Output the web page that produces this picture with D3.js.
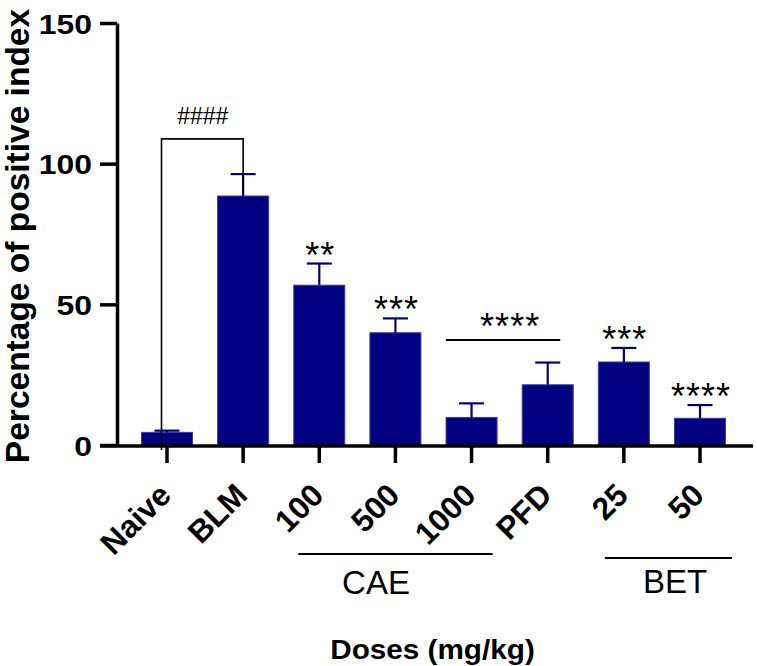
<!DOCTYPE html>
<html>
<head>
<meta charset="utf-8">
<script src="https://cdn.jsdelivr.net/npm/d3@7"></script>
<style>
  html, body { margin: 0; padding: 0; background: #fff; }
  svg { display: block; }
  text { font-family: "Liberation Sans", Arial, Helvetica, sans-serif; fill: #000; }
</style>
</head>
<body>
<svg id="chart" width="757" height="666"></svg>
<script>
// ---- data ----
const categories = ["Naive", "BLM", "100", "500", "1000", "PFD", "25", "50"];
const means      = [4.5, 88.5, 56.8, 39.9, 9.8, 21.4, 29.5, 9.5];
const errors     = [0.6, 7.8, 7.7, 5.1, 5.0, 7.9, 5.0, 4.7];
const stars      = ["", "", "**", "***", "", "", "***", "****"];
const yTicks     = [0, 50, 100, 150];
const groupLabels = ["CAE", "BET"];
const bracketLabel = "####";
const groupStarLabel = "****";
const bracketValue = 108.8;     // height of #### bracket (y units)
const groupStarValue = 37.3;    // height of **** line over 1000 & PFD

// ---- layout ----
const svg = d3.select("#chart");
const navy = "#000080";
const y = d3.scaleLinear().domain([0, 150]).range([445, 23]);
const x = d3.scalePoint().domain(categories).range([167, 700]);
const step = x.step();
const barW = step * 0.67;
const capW = 25;
const data = categories.map((c, i) => ({ c, m: means[i], e: errors[i], s: stars[i] }));

// bars
svg.append("g").selectAll("rect").data(data).join("rect")
  .attr("x", d => x(d.c) - barW / 2)
  .attr("y", d => y(d.m))
  .attr("width", barW)
  .attr("height", d => y(0) - y(d.m))
  .attr("fill", navy)
  .attr("stroke", "#3b3bab")
  .attr("stroke-width", 1);

// error bars
const eg = svg.append("g").attr("stroke", navy).attr("stroke-width", 2.2).attr("fill", "none");
eg.selectAll("line.v").data(data).join("line").attr("class", "v")
  .attr("x1", d => x(d.c)).attr("x2", d => x(d.c))
  .attr("y1", d => y(d.m)).attr("y2", d => y(d.m + d.e));
eg.selectAll("line.h").data(data).join("line").attr("class", "h")
  .attr("x1", d => x(d.c) - capW / 2).attr("x2", d => x(d.c) + capW / 2)
  .attr("y1", d => y(d.m + d.e)).attr("y2", d => y(d.m + d.e));

// Y axis
const yAxis = d3.axisLeft(y).tickValues(yTicks).tickSize(17).tickPadding(8).tickSizeOuter(0);
const gy = svg.append("g").attr("transform", "translate(117,0)").call(yAxis);
gy.select(".domain").attr("stroke", "#000").attr("stroke-width", 3.5);
gy.selectAll(".tick line").attr("stroke", "#000").attr("stroke-width", 3.5);
gy.selectAll(".tick text")
  .attr("font-size", 28.5).attr("font-weight", "bold")
  .attr("font-family", "Liberation Sans, Arial, sans-serif")
  .attr("dy", "0.36em")
  .attr("transform", "scale(1.12,1)")
  .attr("x", (-17 - 8) / 1.12);

// X axis
svg.append("line").attr("x1", 100).attr("x2", 753).attr("y1", 446).attr("y2", 446)
  .attr("stroke", "#000").attr("stroke-width", 3.5);
svg.append("g").selectAll("line").data(categories).join("line")
  .attr("x1", d => x(d)).attr("x2", d => x(d))
  .attr("y1", 446).attr("y2", 463)
  .attr("stroke", "#000").attr("stroke-width", 3.5);
svg.append("g").selectAll("text").data(categories).join("text")
  .attr("text-anchor", "end")
  .attr("font-size", 31.5).attr("font-weight", "bold")
  .attr("transform", d => `translate(${x(d) + 6},${497}) rotate(-45)`)
  .text(d => d);

// stars above bars
svg.append("g").selectAll("text").data(data.filter(d => d.s)).join("text")
  .attr("text-anchor", "middle")
  .attr("font-size", 36)
  .attr("letter-spacing", 1)
  .attr("x", d => x(d.c) + 1)
  .attr("y", d => y(d.m + d.e) + 4)
  .text(d => d.s);

// #### bracket Naive vs BLM
const bx1 = x("Naive") - 5.5, bx2 = x("BLM"), by = y(bracketValue);
svg.append("path")
  .attr("d", `M${bx1},450 L${bx1},${by} L${bx2},${by} L${bx2},${y(means[1]) - 3}`)
  .attr("fill", "none").attr("stroke", "#000").attr("stroke-width", 1.6);
svg.append("text").attr("text-anchor", "middle").attr("font-size", 23)
  .attr("x", (bx1 + bx2) / 2 + 0.5).attr("y", by - 15).text(bracketLabel);

// **** line over 1000 & PFD
const gx1 = x("1000") - barW / 2, gx2 = x("PFD") + capW / 2, gyv = y(groupStarValue);
svg.append("line").attr("x1", gx1).attr("x2", gx2).attr("y1", gyv).attr("y2", gyv)
  .attr("stroke", "#000").attr("stroke-width", 2);
svg.append("text").attr("text-anchor", "middle").attr("font-size", 36)
  .attr("letter-spacing", 1)
  .attr("x", (gx1 + gx2) / 2 + 7).attr("y", gyv - 1).text(groupStarLabel);

// group labels under axis
const groups = [
  { label: groupLabels[0], x1: x("100") - 21, x2: x("1000") + 21, ly: 554, tx: 376, ty: 594 },
  { label: groupLabels[1], x1: x("25") - 19, x2: x("50") + 32, ly: 558, tx: 675, ty: 593 }
];
groups.forEach(g => {
  svg.append("line").attr("x1", g.x1).attr("x2", g.x2).attr("y1", g.ly).attr("y2", g.ly)
    .attr("stroke", "#000").attr("stroke-width", 2);
  svg.append("text").attr("text-anchor", "middle").attr("font-size", 33)
    .attr("x", g.tx).attr("y", g.ty).text(g.label);
});

// axis titles
svg.append("text").attr("text-anchor", "middle").attr("font-size", 27).attr("font-weight", "bold")
  .attr("transform", "translate(432.5,659) scale(1.1,1)")
  .text("Doses (mg/kg)");
svg.append("text").attr("text-anchor", "middle").attr("font-size", 33.5).attr("font-weight", "bold")
  .attr("transform", "translate(29,236) rotate(-90)")
  .text("Percentage of positive index");
</script>
</body>
</html>
